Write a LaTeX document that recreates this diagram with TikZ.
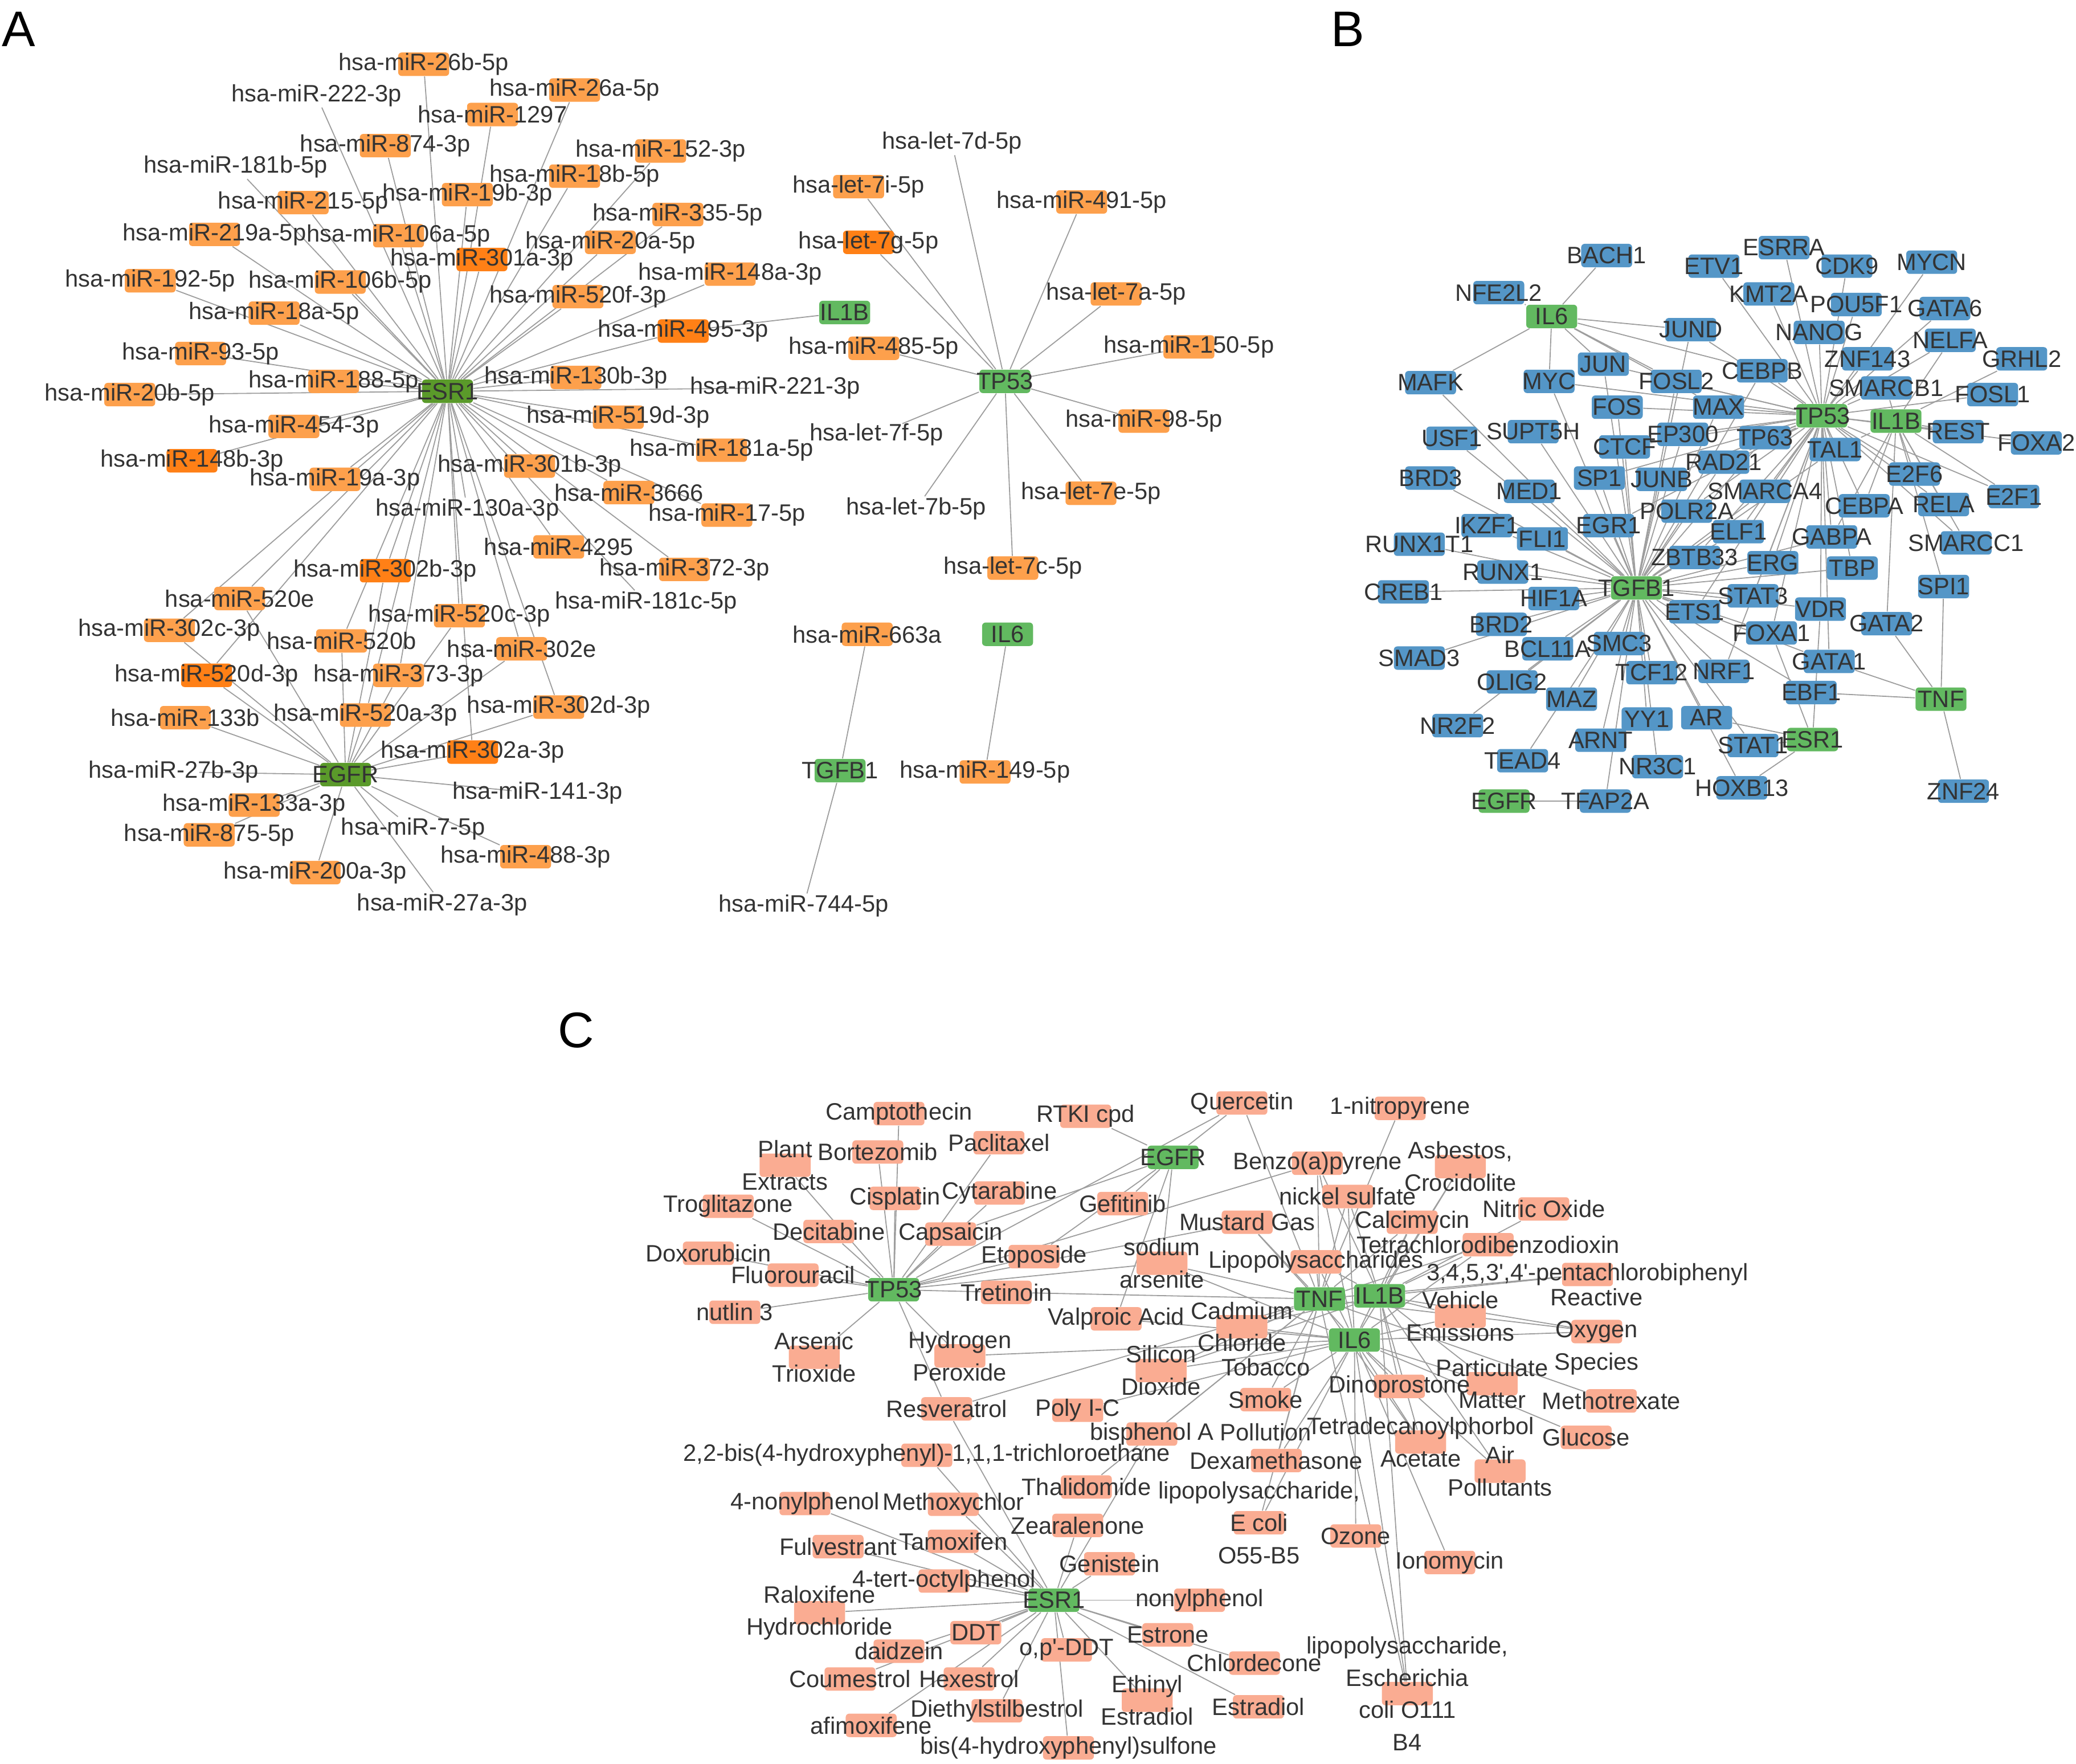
\documentclass[tikz,border=0pt]{standalone}
\usepackage{fontspec}
\setmainfont{Liberation Sans}
\definecolor{oraL}{RGB}{253,160,76}
\definecolor{oraD}{RGB}{255,128,22}
\definecolor{grnD}{RGB}{90,154,42}
\definecolor{grnL}{RGB}{98,185,96}
\definecolor{bluB}{RGB}{84,150,199}
\definecolor{salC}{RGB}{250,172,146}
\definecolor{txtc}{RGB}{51,51,51}
\definecolor{edgec}{RGB}{158,158,158}
\newcommand\lblfont{\fontsize{10.2}{13.9}\selectfont}
\newcommand\panfont{\fontsize{21.5}{24}\selectfont}
\pgfdeclarelayer{bg}
\pgfsetlayers{bg,main}
\tikzset{
  basic/.style = {rectangle, rounded corners=1.5pt, inner sep=0pt, minimum width=0.77cm, minimum height=0.354cm},
  lbl/.style   = {font=\lblfont, text=txtc, inner sep=0pt, align=center},
  mir/.style   = {basic, fill=oraL, label={[lbl]center:{#1}}},
  mird/.style  = {basic, fill=oraD, label={[lbl]center:{#1}}},
  bare/.style  = {basic, label={[lbl]center:{#1}}},
  tf/.style    = {basic, fill=bluB, label={[lbl]center:{#1}}},
  chem/.style  = {basic, fill=salC, label={[lbl]center:{#1}}},
  gene/.style  = {basic, fill=grnL, label={[lbl]center:{#1}}},
  gened/.style = {basic, fill=grnD, label={[lbl]center:{#1}}},
  panel/.style = {font=\panfont, text=black, inner sep=0pt}
}
\begin{document}
\begin{tikzpicture}[x=0.02cm, y=-0.02cm,
  every edge/.style={draw=edgec, line width=0.45pt}]
\useasboundingbox (0,0) rectangle (1568,1332);

% panel letters
\node [panel] (panA) at (14,22) {A};
\node [panel] (panB) at (1018,22) {B};
\node [panel] (panC) at (435,778) {C};

% A: genes
\node [gened={ESR1}] (aESR) at (338,295.5) {};
\node [gened={EGFR}] (aEGFR) at (261,585) {};
\node [gene={IL1B}] (aIL1B) at (638,236) {};
\node [gene={TP53}] (aTP53) at (759,288) {};
\node [gene={IL6}] (aIL6) at (761,479) {};
\node [gene={TGFB1}] (aTGFB) at (634.5,582) {};

% A: miRNAs
\node [mir={hsa-miR-26b-5p}] (a26b) at (320,48.5) {};
\node [bare={hsa-miR-222-3p}] (a222) at (239,72) {};
\node [mir={hsa-miR-26a-5p}] (a26a) at (434,68) {};
\node [mir={hsa-miR-1297}] (a1297) at (372,86.5) {};
\node [mir={hsa-miR-874-3p}] (a874) at (291,110) {};
\node [mir={hsa-miR-152-3p}] (a152) at (499,114) {};
\node [bare={hsa-miR-181b-5p}] (a181b) at (178,126) {};
\node [mir={hsa-miR-18b-5p}] (a18b) at (434,133) {};
\node [mir={hsa-miR-215-5p}] (a215) at (229,153) {};
\node [mir={hsa-miR-19b-3p}] (a19b) at (353,147) {};
\node [mir={hsa-miR-335-5p}] (a335) at (512,162) {};
\node [mir={hsa-miR-219a-5p}] (a219) at (162,177) {};
\node [mir={hsa-miR-106a-5p}] (a106a) at (301,178) {};
\node [mir={hsa-miR-20a-5p}] (a20a) at (461,183) {};
\node [mird={hsa-miR-301a-3p}] (a301a) at (364,196) {};
\node [mir={hsa-miR-192-5p}] (a192) at (113.5,212) {};
\node [mir={hsa-miR-106b-5p}] (a106b) at (257,213) {};
\node [mir={hsa-miR-148a-3p}] (a148a) at (551.5,207) {};
\node [mir={hsa-miR-520f-3p}] (a520f) at (436.5,224) {};
\node [mir={hsa-miR-18a-5p}] (a18a) at (207,236.5) {};
\node [mird={hsa-miR-495-3p}] (a495) at (516,250) {};
\node [mir={hsa-miR-93-5p}] (a93) at (151.5,267) {};
\node [mir={hsa-miR-188-5p}] (a188) at (252,288) {};
\node [mir={hsa-miR-130b-3p}] (a130b) at (435,285) {};
\node [mir={hsa-miR-20b-5p}] (a20b) at (98,298) {};
\node [bare={hsa-miR-221-3p}] (a221) at (585.5,293) {};
\node [mir={hsa-miR-454-3p}] (a454) at (222,322) {};
\node [mir={hsa-miR-519d-3p}] (a519d) at (467,315) {};
\node [mird={hsa-miR-148b-3p}] (a148b) at (145,348) {};
\node [mir={hsa-miR-181a-5p}] (a181a) at (545,340) {};
\node [mir={hsa-miR-19a-3p}] (a19a) at (253,362) {};
\node [mir={hsa-miR-301b-3p}] (a301b) at (400,352) {};
\node [mir={hsa-miR-3666}] (a3666) at (475,372) {};
\node [bare={hsa-miR-130a-3p}] (a130a) at (353,385) {};
\node [mir={hsa-miR-17-5p}] (a17) at (549,389) {};
\node [mir={hsa-miR-4295}] (a4295) at (422,413) {};
\node [mir={hsa-miR-372-3p}] (a372) at (517,430) {};
\node [bare={hsa-miR-181c-5p}] (a181c) at (488,455) {};
\node [mird={hsa-miR-302b-3p}] (a302b) at (291,431) {};
\node [mir={hsa-miR-520e}] (a520e) at (181,452) {};
\node [mir={hsa-miR-520c-3p}] (a520c) at (347,465) {};
\node [mir={hsa-miR-302c-3p}] (a302c) at (128,476) {};
\node [mir={hsa-miR-520b}] (a520b) at (258,484) {};
\node [mir={hsa-miR-302e}] (a302e) at (394,490) {};
\node [mird={hsa-miR-520d-3p}] (a520d) at (156,510) {};
\node [mir={hsa-miR-373-3p}] (a373) at (301,510) {};
\node [mir={hsa-miR-133b}] (a133b) at (140,542) {};
\node [mir={hsa-miR-520a-3p}] (a520a) at (276,540) {};
\node [mir={hsa-miR-302d-3p}] (a302d) at (422,534) {};
\node [mird={hsa-miR-302a-3p}] (a302a) at (357,568) {};
\node [bare={hsa-miR-27b-3p}] (a27b) at (131,583) {};
\node [bare={hsa-miR-141-3p}] (a141) at (406,599) {};
\node [mir={hsa-miR-133a-3p}] (a133a) at (192,608) {};
\node [mir={hsa-miR-875-5p}] (a875) at (158,630.5) {};
\node [bare={hsa-miR-7-5p}] (a7) at (312,626) {};
\node [mir={hsa-miR-488-3p}] (a488) at (397,647) {};
\node [mir={hsa-miR-200a-3p}] (a200a) at (238,659) {};
\node [bare={hsa-miR-27a-3p}] (a27a) at (334,683) {};

\node [bare={hsa-let-7d-5p}] (alet7d) at (719,108) {};
\node [mir={hsa-let-7i-5p}] (alet7i) at (648.5,141) {};
\node [mir={hsa-miR-491-5p}] (a491) at (817,152.5) {};
\node [mird={hsa-let-7g-5p}] (alet7g) at (656,183) {};
\node [mir={hsa-let-7a-5p}] (alet7a) at (843,222) {};
\node [mir={hsa-miR-485-5p}] (a485) at (660,263) {};
\node [mir={hsa-miR-150-5p}] (a150) at (898,262) {};
\node [bare={hsa-let-7f-5p}] (alet7f) at (662,328) {};
\node [mir={hsa-miR-98-5p}] (a98) at (864,318) {};
\node [bare={hsa-let-7b-5p}] (alet7b) at (692,384) {};
\node [mir={hsa-let-7e-5p}] (alet7e) at (824,372.5) {};
\node [mir={hsa-let-7c-5p}] (alet7c) at (765,429) {};
\node [mir={hsa-miR-663a}] (a663) at (655,479) {};
\node [mir={hsa-miR-149-5p}] (a149) at (744,583) {};
\node [bare={hsa-miR-744-5p}] (a744) at (607,684) {};

% B: genes
\node [gene={IL6}] (bIL6) at (1172,239) {};
\node [gene={TP53}] (bTP53) at (1376,314) {};
\node [gene={IL1B}] (bIL1B) at (1432,318) {};
\node [gene={TGFB1}] (bTGFB) at (1236,444) {};
\node [gene={TNF}] (bTNF) at (1466,528) {};
\node [gene={ESR1}] (bESR) at (1369,558.5) {};
\node [gene={EGFR}] (bEGFR) at (1136,605) {};

% B: transcription factors
\node [tf={BACH1}] (bBACH1) at (1213.5,193) {};
\node [tf={NFE2L2}] (bNFE2L2) at (1132,221) {};
\node [tf={ETV1}] (bETV1) at (1294.5,201) {};
\node [tf={ESRRA}] (bESRRA) at (1347.5,187) {};
\node [tf={CDK9}] (bCDK9) at (1395,201) {};
\node [tf={MYCN}] (bMYCN) at (1459,198) {};
\node [tf={KMT2A}] (bKMT2A) at (1336,222) {};
\node [tf={POU5F1}] (bPOU5F1) at (1402,230) {};
\node [tf={GATA6}] (bGATA6) at (1469,233) {};
\node [tf={JUND}] (bJUND) at (1277,249) {};
\node [tf={NANOG}] (bNANOG) at (1374,251) {};
\node [tf={NELFA}] (bNELFA) at (1473,257) {};
\node [tf={GRHL2}] (bGRHL2) at (1527,271) {};
\node [tf={ZNF143}] (bZNF143) at (1410.5,271) {};
\node [tf={JUN}] (bJUN) at (1211,275) {};
\node [tf={CEBPB}] (bCEBPB) at (1331,280) {};
\node [tf={MAFK}] (bMAFK) at (1080.5,289) {};
\node [tf={MYC}] (bMYC) at (1170,288) {};
\node [tf={FOSL2}] (bFOSL2) at (1266,288) {};
\node [tf={SMARCB1}] (bSMARCB1) at (1424.6,293) {};
\node [tf={FOSL1}] (bFOSL1) at (1505,298) {};
\node [tf={FOS}] (bFOS) at (1221.5,307.5) {};
\node [tf={MAX}] (bMAX) at (1298,307.5) {};
\node [tf={REST}] (bREST) at (1479,326) {};
\node [tf={EP300}] (bEP300) at (1271,328) {};
\node [tf={SUPT5H}] (bSUPT5H) at (1158,326) {};
\node [tf={USF1}] (bUSF1) at (1096.5,331) {};
\node [tf={TP63}] (bTP63) at (1333,330.5) {};
\node [tf={FOXA2}] (bFOXA2) at (1538,334.5) {};
\node [tf={CTCF}] (bCTCF) at (1227,337.5) {};
\node [tf={TAL1}] (bTAL1) at (1386,339.5) {};
\node [tf={RAD21}] (bRAD21) at (1302,349) {};
\node [tf={E2F6}] (bE2F6) at (1446,358) {};
\node [tf={BRD3}] (bBRD3) at (1080.5,361) {};
\node [tf={SP1}] (bSP1) at (1208,361) {};
\node [tf={JUNB}] (bJUNB) at (1255,362) {};
\node [tf={MED1}] (bMED1) at (1155,371) {};
\node [tf={SMARCA4}] (bSMARCA4) at (1333,371) {};
\node [tf={E2F1}] (bE2F1) at (1521,375) {};
\node [tf={RELA}] (bRELA) at (1468,381) {};
\node [tf={CEBPA}] (bCEBPA) at (1408,382) {};
\node [tf={POLR2A}] (bPOLR2A) at (1274,386) {};
\node [tf={EGR1}] (bEGR1) at (1215,397) {};
\node [tf={IKZF1}] (bIKZF1) at (1123,397) {};
\node [tf={ELF1}] (bELF1) at (1313,401.5) {};
\node [tf={GABPA}] (bGABPA) at (1383.5,405.5) {};
\node [tf={FLI1}] (bFLI1) at (1165,407) {};
\node [tf={SMARCC1}] (bSMARCC1) at (1485,410) {};
\node [tf={RUNX1T1}] (bRUNX1T1) at (1072,411) {};
\node [tf={ZBTB33}] (bZBTB33) at (1280,421) {};
\node [tf={ERG}] (bERG) at (1339,425) {};
\node [tf={TBP}] (bTBP) at (1399,429) {};
\node [tf={RUNX1}] (bRUNX1) at (1135,432) {};
\node [tf={SPI1}] (bSPI1) at (1468,443) {};
\node [tf={CREB1}] (bCREB1) at (1060,447) {};
\node [tf={STAT3}] (bSTAT3) at (1324,450) {};
\node [tf={HIF1A}] (bHIF1A) at (1173.5,452) {};
\node [tf={VDR}] (bVDR) at (1375,460) {};
\node [tf={ETS1}] (bETS1) at (1280,462) {};
\node [tf={GATA2}] (bGATA2) at (1425,471) {};
\node [tf={BRD2}] (bBRD2) at (1134,471.5) {};
\node [tf={FOXA1}] (bFOXA1) at (1338,478) {};
\node [tf={SMC3}] (bSMC3) at (1223,486) {};
\node [tf={BCL11A}] (bBCL11A) at (1169,490) {};
\node [tf={SMAD3}] (bSMAD3) at (1072,497) {};
\node [tf={GATA1}] (bGATA1) at (1381.6,499.5) {};
\node [tf={NRF1}] (bNRF1) at (1302,507) {};
\node [tf={TCF12}] (bTCF12) at (1247.5,508) {};
\node [tf={OLIG2}] (bOLIG2) at (1142,515) {};
\node [tf={EBF1}] (bEBF1) at (1368,523) {};
\node [tf={MAZ}] (bMAZ) at (1187,528) {};
\node [tf={AR}] (bAR) at (1289,542) {};
\node [tf={YY1}] (bYY1) at (1244,543) {};
\node [tf={NR2F2}] (bNR2F2) at (1101,548) {};
\node [tf={ARNT}] (bARNT) at (1209,559) {};
\node [tf={STAT1}] (bSTAT1) at (1324,563) {};
\node [tf={TEAD4}] (bTEAD4) at (1150,574.5) {};
\node [tf={NR3C1}] (bNR3C1) at (1252,579) {};
\node [tf={HOXB13}] (bHOXB13) at (1315.5,595) {};
\node [tf={ZNF24}] (bZNF24) at (1483,597.5) {};
\node [tf={TFAP2A}] (bTFAP2A) at (1212.5,605) {};

% C: genes
\node [gene={TP53}] (cTP53) at (675,974) {};
\node [gene={EGFR}] (cEGFR) at (886,874) {};
\node [gene={TNF}] (cTNF) at (996.6,981) {};
\node [gene={IL1B}] (cIL1B) at (1042,978.6) {};
\node [gene={IL6}] (cIL6) at (1023,1012) {};
\node [gene={ESR1}] (cESR) at (796,1208.5) {};

% C: chemicals
\node [chem={Camptothecin}] (cCampto) at (679,841) {};
\node [chem={RTKI cpd}] (cRTKI) at (820,843) {};
\node [chem={Quercetin}] (cQuerc) at (938,833) {};
\node [chem={1-nitropyrene}] (cNitro) at (1057.5,837) {};
\node [chem={Plant\\Extracts}] (cPlant) at (593,880) {};
\node [chem={Bortezomib}] (cBortez) at (663,870) {};
\node [chem={Paclitaxel}] (cPacli) at (754.5,863) {};
\node [chem={Benzo(a)pyrene}] (cBenzo) at (995,878.5) {};
\node [chem={Asbestos,\\Crocidolite}] (cAsbest) at (1103,881) {};
\node [chem={Troglitazone}] (cTroglit) at (550,911) {};
\node [chem={Cisplatin}] (cCispl) at (676,905) {};
\node [chem={Cytarabine}] (cCytar) at (755,901) {};
\node [chem={Gefitinib}] (cGefit) at (848,909) {};
\node [chem={nickel sulfate}] (cNickel) at (1018,903.6) {};
\node [chem={Nitric Oxide}] (cNitric) at (1166,913) {};
\node [chem={Mustard Gas}] (cMustard) at (942,923) {};
\node [chem={Calcimycin}] (cCalci) at (1066.6,923) {};
\node [chem={Decitabine}] (cDecit) at (626,930) {};
\node [chem={Capsaicin}] (cCaps) at (718,932) {};
\node [chem={Tetrachlorodibenzodioxin}] (cTCDD) at (1124,940) {};
\node [chem={Doxorubicin}] (cDoxo) at (535,946.5) {};
\node [chem={Etoposide}] (cEtop) at (781,949) {};
\node [chem={sodium\\arsenite}] (cArsenite) at (877.6,954) {};
\node [chem={Lipopolysaccharides}] (cLPS) at (994,953) {};
\node [chem={3,4,5,3\textquotesingle,4\textquotesingle-pentachlorobiphenyl}] (cPCB) at (1199,962.5) {};
\node [chem={Fluorouracil}] (cFluor) at (599,963) {};
\node [chem={Tretinoin}] (cTret) at (760,976) {};
\node [chem={nutlin 3}] (cNutlin) at (555,991) {};
\node [chem={Valproic Acid}] (cValpro) at (843,996) {};
\node [chem={Vehicle\\Emissions}] (cVehicle) at (1103,994) {};
\node [chem={Reactive\\Oxygen\\Species}] (cROS) at (1206,1005.6) {};
\node [chem={Cadmium\\Chloride}] (cCadm) at (938,1002) {};
\node [chem={Arsenic\\Trioxide}] (cArsTri) at (615,1025) {};
\node [chem={Hydrogen\\Peroxide}] (cH2O2) at (725,1024) {};
\node [chem={Silicon\\Dioxide}] (cSilicon) at (877,1035) {};
\node [chem={Particulate\\Matter}] (cPM) at (1127,1045) {};
\node [chem={Dinoprostone}] (cDino) at (1057,1047) {};
\node [chem={Tobacco\\Smoke\\Pollution}] (cTobacco) at (956,1057) {};
\node [chem={Methotrexate}] (cMetho) at (1217,1058) {};
\node [chem={Resveratrol}] (cResv) at (715,1064) {};
\node [chem={Poly I-C}] (cPolyIC) at (814,1065) {};
\node [chem={bisphenol A}] (cBPA) at (870,1083) {};
\node [chem={Glucose}] (cGluc) at (1198,1085.5) {};
\node [chem={Tetradecanoylphorbol\\Acetate}] (cTPA) at (1073,1089) {};
\node [chem={2,2-bis(4-hydroxyphenyl)-1,1,1-trichloroethane}] (cHPTE) at (700,1099) {};
\node [chem={Dexamethasone}] (cDexa) at (964,1103) {};
\node [chem={Air\\Pollutants}] (cAir) at (1133,1111) {};
\node [chem={Thalidomide}] (cThalid) at (820.5,1123) {};
\node [chem={4-nonylphenol}] (c4NP) at (608,1135.5) {};
\node [chem={Methoxychlor}] (cMethox) at (720,1136) {};
\node [chem={lipopolysaccharide,\\E coli\\O55-B5}] (cEcoliA) at (951,1150) {};
\node [chem={Zearalenone}] (cZear) at (814,1152) {};
\node [chem={Ozone}] (cOzone) at (1024,1160) {};
\node [chem={Tamoxifen}] (cTamox) at (720,1164) {};
\node [chem={Fulvestrant}] (cFulv) at (633,1168) {};
\node [chem={Ionomycin}] (cIono) at (1095,1180) {};
\node [chem={Genistein}] (cGenist) at (838,1181) {};
\node [chem={4-tert-octylphenol}] (cOctyl) at (713,1194) {};
\node [chem={nonylphenol}] (cNonyl) at (906,1208.5) {};
\node [chem={Raloxifene\\Hydrochloride}] (cRalox) at (619,1218) {};
\node [chem={DDT}] (cDDT) at (737,1233) {};
\node [chem={Estrone}] (cEstrone) at (882,1234.6) {};
\node [chem={daidzein}] (cDaidz) at (679,1247) {};
\node [chem={o,p\textquotesingle-DDT}] (cOpDDT) at (805.5,1246) {};
\node [chem={Chlordecone}] (cChlord) at (947.5,1256) {};
\node [chem={Coumestrol}] (cCoum) at (642,1268) {};
\node [chem={Hexestrol}] (cHexes) at (732,1268) {};
\node [chem={lipopolysaccharide,\\Escherichia\\coli O111\\B4}] (cEcoliB) at (1063,1279) {};
\node [chem={Ethinyl\\Estradiol}] (cEthinyl) at (866.5,1284) {};
\node [chem={Estradiol}] (cEstradiol) at (950.5,1289) {};
\node [chem={Diethylstilbestrol}] (cDES) at (753,1292) {};
\node [chem={afimoxifene}] (cAfimox) at (658,1303) {};
\node [chem={bis(4-hydroxyphenyl)sulfone}] (cBPS) at (807,1320) {};

% connectors, behind the boxes
\begin{pgfonlayer}{bg}
% A
\path (aESR) edge (a26b) edge (a222) edge (a26a) edge (a1297) edge (a874) edge (a152)
  edge (a181b) edge (a18b) edge (a215) edge (a19b) edge (a335) edge (a219) edge (a106a)
  edge (a20a) edge (a301a) edge (a192) edge (a106b) edge (a148a) edge (a520f) edge (a18a)
  edge (a495) edge (a93) edge (a188) edge (a130b) edge (a20b) edge (a221) edge (a454)
  edge (a519d) edge (a148b) edge (a181a) edge (a19a) edge (a301b) edge (a3666) edge (a130a)
  edge (a17) edge (a4295) edge (a372) edge (a181c) edge (a302b) edge (a520e) edge (a520c)
  edge (a302c) edge (a520b) edge (a302e) edge (a520d) edge (a373) edge (a520a) edge (a302d)
  edge (a302a);
\path (aEGFR) edge (a520e) edge (a302c) edge (a520d) edge (a133b) edge (a520b) edge (a302b)
  edge (a520c) edge (a373) edge (a520a) edge (a302e) edge (a302d) edge (a302a) edge (a27b)
  edge (a133a) edge (a875) edge (a200a) edge (a7) edge (a27a) edge (a488) edge (a141);
\path (aTP53) edge (alet7d) edge (alet7i) edge (alet7g) edge (a491) edge (alet7a) edge (a150)
  edge (a485) edge (alet7f) edge (a98) edge (alet7e) edge (alet7b) edge (alet7c);
\path (aIL1B) edge (a495);
\path (aTGFB) edge (a663) edge (a744);
\path (aIL6) edge (a149);
% B
\path (bIL6) edge (bBACH1) edge (bNFE2L2) edge (bMAFK) edge (bMYC) edge (bJUN) edge (bJUND)
  edge (bFOSL2) edge (bMAX) edge (bCEBPB);
\path (bTP53) edge (bETV1) edge (bESRRA) edge (bCDK9) edge (bMYCN) edge (bKMT2A) edge (bPOU5F1)
  edge (bGATA6) edge (bNANOG) edge (bNELFA) edge (bZNF143) edge (bCEBPB) edge (bSMARCB1)
  edge (bFOSL1) edge (bREST) edge (bFOXA2) edge (bTP63) edge (bTAL1) edge (bE2F6) edge (bE2F1)
  edge (bRELA) edge (bCEBPA) edge (bSMARCA4) edge (bELF1) edge (bGABPA) edge (bERG) edge (bTBP)
  edge (bVDR) edge (bSTAT3) edge (bJUND) edge (bFOSL2) edge (bMAX) edge (bEP300) edge (bRAD21)
  edge (bJUNB) edge (bPOLR2A) edge (bZBTB33) edge (bETS1) edge (bFOXA1) edge (bGATA1)
  edge (bSMARCC1) edge (bNRF1) edge (bMYC) edge (bFOS) edge (bJUN) edge (bSP1) edge (bCTCF)
  edge (bEGR1);
\path (bIL1B) edge (bGRHL2) edge (bREST) edge (bE2F6) edge (bRELA) edge (bSPI1) edge (bCEBPA)
  edge (bGATA2) edge (bTAL1) edge (bSMARCB1) edge (bSMARCC1) edge (bGABPA) edge (bNELFA)
  edge (bE2F1);
\path (bTGFB) edge (bJUN) edge (bFOS) edge (bSUPT5H) edge (bCTCF) edge (bSP1) edge (bJUNB)
  edge (bMED1) edge (bEGR1) edge (bIKZF1) edge (bFLI1) edge (bRUNX1T1) edge (bRUNX1)
  edge (bCREB1) edge (bHIF1A) edge (bBRD2) edge (bSMAD3) edge (bBCL11A) edge (bSMC3)
  edge (bOLIG2) edge (bMAZ) edge (bNR2F2) edge (bTEAD4) edge (bTCF12) edge (bYY1) edge (bARNT)
  edge (bNR3C1) edge (bTFAP2A) edge (bMAFK) edge (bUSF1) edge (bBRD3) edge (bETS1) edge (bSTAT3)
  edge (bERG) edge (bELF1) edge (bZBTB33) edge (bPOLR2A) edge (bEP300) edge (bRAD21)
  edge (bSMARCA4) edge (bTP63) edge (bNRF1) edge (bAR) edge (bSTAT1) edge (bHOXB13)
  edge (bFOXA1) edge (bEBF1) edge (bTBP) edge (bVDR) edge (bJUND) edge (bFOSL2) edge (bMAX)
  edge (bGABPA) edge (bTAL1) edge (bMYC) edge (bCEBPB) edge (bGATA1);
\path (bTNF) edge (bSPI1) edge (bGATA2) edge (bGATA1) edge (bEBF1) edge (bZNF24);
\path (bESR) edge (bAR) edge (bSTAT1) edge (bHOXB13) edge (bFOXA1) edge (bVDR);
\path (bEGFR) edge (bTFAP2A);
% C
\path (cTP53) edge (cCampto) edge (cPlant) edge (cBortez) edge (cPacli) edge (cTroglit)
  edge (cCispl) edge (cCytar) edge (cDecit) edge (cCaps) edge (cDoxo) edge (cEtop) edge (cFluor)
  edge (cTret) edge (cNutlin) edge (cArsTri) edge (cH2O2) edge (cResv) edge (cQuerc)
  edge (cBenzo) edge (cArsenite) edge (cMustard);
\path (cEGFR) edge (cRTKI) edge (cQuerc) edge (cGefit) edge (cEtop) edge (cValpro)
  edge (cArsenite) edge (cCaps);
\path (cTNF) edge (cQuerc) edge (cNitro) edge (cBenzo) edge (cNickel) edge (cMustard)
  edge (cCalci) edge (cLPS) edge (cArsenite) edge (cCadm) edge (cSilicon) edge (cTobacco)
  edge (cTret) edge (cResv) edge (cBPA) edge (cThalid) edge (cDexa) edge (cEcoliA)
  edge (cEcoliB) edge (cTPA) edge (cROS) edge (cPCB) edge (cMetho) edge (cTCDD);
\path (cIL1B) edge (cAsbest) edge (cNickel) edge (cCalci) edge (cNitric) edge (cTCDD)
  edge (cLPS) edge (cPCB) edge (cVehicle) edge (cROS) edge (cPM) edge (cAir) edge (cTPA)
  edge (cDino) edge (cEcoliB) edge (cBenzo) edge (cSilicon) edge (cCadm);
\path (cIL6) edge (cNickel) edge (cBenzo) edge (cCalci) edge (cTCDD) edge (cLPS)
  edge (cVehicle) edge (cROS) edge (cPM) edge (cAir) edge (cGluc) edge (cIono) edge (cOzone)
  edge (cEcoliA) edge (cEcoliB) edge (cDexa) edge (cTobacco) edge (cPolyIC) edge (cH2O2)
  edge (cCadm) edge (cSilicon) edge (cMustard) edge (cValpro) edge (cTPA) edge (cDino)
  edge (cAsbest) edge (cArsenite);
\path (cESR) edge (cHPTE) edge (c4NP) edge (cMethox) edge (cZear) edge (cFulv) edge (cTamox)
  edge (cGenist) edge (cOctyl) edge (cNonyl) edge (cRalox) edge (cDDT) edge (cEstrone)
  edge (cDaidz) edge (cOpDDT) edge (cCoum) edge (cHexes) edge (cEthinyl) edge (cDES)
  edge (cAfimox) edge (cBPS) edge (cChlord) edge (cEstradiol) edge (cResv) edge (cBPA);
\end{pgfonlayer}
\end{tikzpicture}
\end{document}
